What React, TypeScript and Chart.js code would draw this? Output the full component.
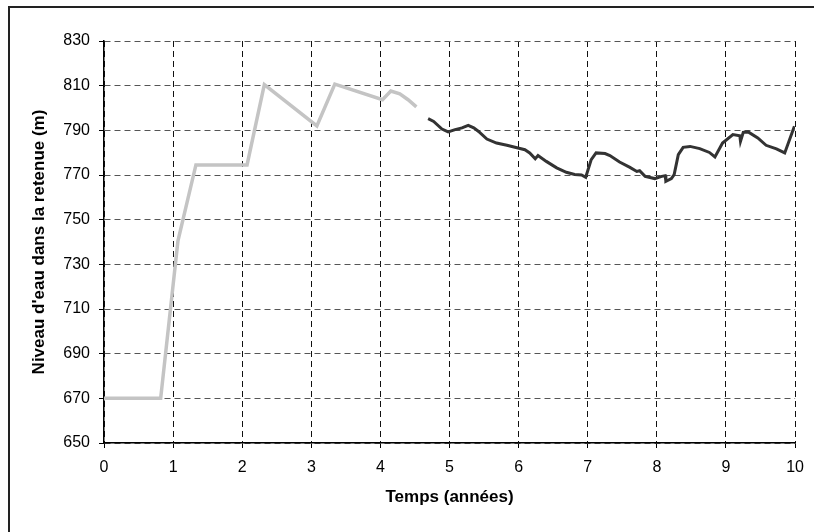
import React, { useEffect, useRef } from "react";
import { Chart, registerables } from "chart.js";

Chart.register(...registerables);

// Phase 1 (grey): filling period
const greyX = [0, 0.82, 1.07, 1.33, 2.07, 2.32, 3.08, 3.34, 4.03, 4.15, 4.28, 4.4, 4.52];
const greyY = [670, 670, 740.5, 774.5, 774.5, 810.5, 792, 810.7, 803.7, 807.6, 806.3, 803.7, 800.5];

// Phase 2 (dark): operation period
const darkX = [
  4.69, 4.77, 4.89, 4.98, 5.08, 5.18, 5.27, 5.35, 5.42, 5.54, 5.68, 5.83, 5.99, 6.09, 6.16,
  6.24, 6.28, 6.4, 6.55, 6.69, 6.81, 6.91, 6.97, 7.05, 7.12, 7.25, 7.32, 7.46, 7.61, 7.71,
  7.75, 7.83, 7.97, 8.07, 8.12, 8.13, 8.21, 8.25, 8.31, 8.38, 8.48, 8.62, 8.76, 8.84, 8.95,
  9.1, 9.2, 9.21, 9.25, 9.32, 9.46, 9.58, 9.73, 9.85, 9.99,
];
const darkY = [
  795.2, 794.0, 790.6, 789.3, 790.3, 791.1, 792.2, 791.1, 789.5, 786.1, 784.3, 783.3, 782.1, 781.3, 779.9,
  777.3, 778.7, 776.1, 773.2, 771.2, 770.2, 770.0, 769.0, 776.9, 779.9, 779.6, 778.7, 775.8, 773.4, 771.6,
  771.9, 769.4, 768.4, 769.4, 769.7, 767.2, 768.4, 770.2, 779.1, 782.4, 782.8, 781.8, 780.1, 778.1, 784.3,
  788.1, 787.6, 785.1, 789.1, 789.3, 786.6, 783.3, 781.7, 779.9, 791.8,
];

const xMin = 0, xMax = 10, xStep = 1;
const yMin = 650, yMax = 830, yStep = 20;
const xTitle = "Temps (années)";
const yTitle = "Niveau d'eau dans la retenue (m)";

const FONT = "'Liberation Sans', Arial, sans-serif";

export default function App() {
  const ref = useRef<HTMLCanvasElement | null>(null);

  useEffect(() => {
    if (!ref.current) return;
    const chart = new Chart(ref.current, {
      type: "line",
      data: {
        datasets: [
          {
            data: greyX.map((x, i) => ({ x, y: greyY[i] })),
            borderColor: "#c4c4c4",
            borderWidth: 3.5,
            pointRadius: 0,
            tension: 0,
          },
          {
            data: darkX.map((x, i) => ({ x, y: darkY[i] })),
            borderColor: "#333333",
            borderWidth: 3,
            pointRadius: 0,
            tension: 0,
          },
        ],
      },
      options: {
        responsive: false,
        animation: false,
        layout: { padding: { left: 0, right: 18, top: 41, bottom: 0 } },
        plugins: { legend: { display: false }, tooltip: { enabled: false } },
        scales: {
          x: {
            type: "linear",
            min: xMin,
            max: xMax,
            afterFit: (s: any) => { s.height = 89; },
            ticks: {
              stepSize: xStep,
              color: "#000",
              padding: 10,
              maxRotation: 0,
              font: { family: FONT, size: 16 },
            },
            grid: { color: "#111", tickColor: "#000", tickLength: 5 },
            border: { display: true, color: "#000", width: 1.5, dash: [6, 4] },
            title: {
              display: true,
              text: xTitle,
              color: "#000",
              font: { family: FONT, size: 17, weight: "bold" },
              padding: { top: 0, bottom: 24 },
            },
          },
          y: {
            type: "linear",
            min: yMin,
            max: yMax,
            afterFit: (s: any) => { s.width = 104; },
            ticks: {
              stepSize: yStep,
              color: "#000",
              padding: 9,
              font: { family: FONT, size: 16 },
            },
            grid: { color: "#555", tickColor: "#000", tickLength: 5 },
            border: { display: true, color: "#000", width: 1.5, dash: [6, 4] },
            title: {
              display: true,
              text: yTitle,
              color: "#000",
              font: { family: FONT, size: 17, weight: "bold" },
              padding: { top: 29, bottom: 0 },
            },
          },
        },
      },
    });
    return () => chart.destroy();
  }, []);

  return (
    <div style={{ position: "fixed", left: 0, top: 0, width: 814, height: 532, background: "#fff" }}>
      <div
        style={{
          position: "absolute",
          left: 8,
          top: 6,
          width: 806,
          height: 526,
          boxSizing: "border-box",
          borderLeft: "2px solid #222",
          borderTop: "2px solid #222",
        }}
      />
      <canvas
        ref={ref}
        width={814}
        height={532}
        style={{ position: "absolute", left: 0, top: 0, width: 814, height: 532 }}
      />
    </div>
  );
}
